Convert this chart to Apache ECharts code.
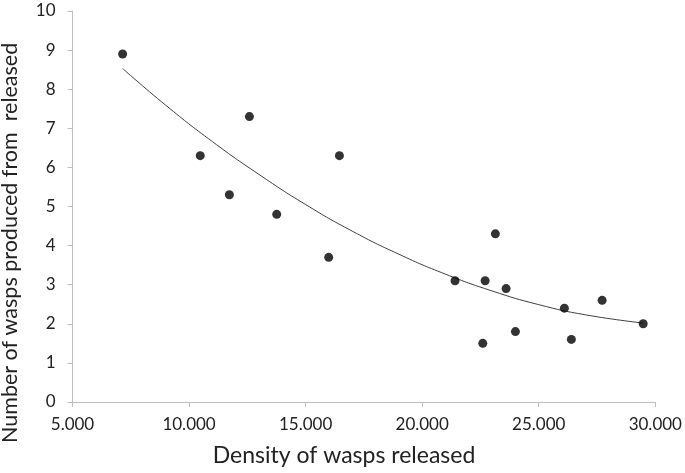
<!DOCTYPE html>
<html>
<head>
<meta charset="utf-8">
<script src="https://cdn.jsdelivr.net/npm/echarts@6/dist/echarts.min.js"></script>
<style>html,body{margin:0;padding:0;background:#fff}#c{width:685px;height:473px}</style>
</head>
<body>
<div id="c"></div>
<script>
// Observed points: density of wasps released vs number produced
const densityX = [7150, 10480, 11730, 12590, 13760, 16450, 15990, 21410, 22700, 22600, 23140, 23600, 24000, 26100, 26400, 27720, 29480];
const producedY = [8.9, 6.3, 5.3, 7.3, 4.8, 6.3, 3.7, 3.1, 3.1, 1.5, 4.3, 2.9, 1.8, 2.4, 1.6, 2.6, 2.0];
// Trend curve
const trendX = [7150, 9000, 11000, 13000, 15000, 17000, 19000, 21000, 23000, 25000, 27000, 29470];
const trendY = [8.53, 7.59, 6.66, 5.82, 5.05, 4.37, 3.78, 3.27, 2.84, 2.49, 2.23, 2.02];
const xTicks = {min: 5000, max: 30000, interval: 5000};
const yTicks = {min: 0, max: 10, interval: 1};
const xTitle = 'Density of wasps released';
const yTitle = 'Number of wasps produced from  released';

const font = 'Lato';
const chart = echarts.init(document.getElementById('c'), null, {renderer: 'canvas'});
const pts = densityX.map((x, i) => [x, producedY[i]]);
const trend = trendX.map((x, i) => [x, trendY[i]]);
const axisCol = '#bfbfbf';
chart.setOption({
  animation: false,
  backgroundColor: '#fff',
  grid: {left: 72.5, right: 29.7, top: 11, bottom: 71},
  xAxis: {
    type: 'value', min: xTicks.min, max: xTicks.max, interval: xTicks.interval,
    splitLine: {show: false},
    axisLine: {show: true, onZero: false, lineStyle: {color: axisCol, width: 1}},
    axisTick: {show: true, length: 5, lineStyle: {color: axisCol}},
    axisLabel: {margin: 14, color: '#222', fontSize: 17, fontFamily: font,
      formatter: v => (v / 1000) + '.000'}
  },
  yAxis: {
    type: 'value', min: yTicks.min, max: yTicks.max, interval: yTicks.interval,
    splitLine: {show: false},
    axisLine: {show: true, lineStyle: {color: axisCol, width: 1}},
    axisTick: {show: true, length: 5, lineStyle: {color: axisCol}},
    axisLabel: {margin: 17, color: '#222', fontSize: 17, fontFamily: font}
  },
  graphic: [
    {type: 'text', x: 344, y: 467,
      style: {text: xTitle, fill: '#222', font: '23px ' + font, textAlign: 'center', textVerticalAlign: 'bottom'}},
    {type: 'text', rotation: Math.PI / 2, x: 21, y: 443,
      style: {text: yTitle, fill: '#222', font: '21.5px ' + font, textVerticalAlign: 'bottom', textAlign: 'left'}}
  ],
  series: [
    {type: 'line', data: trend, smooth: true, symbol: 'none',
      lineStyle: {color: '#404040', width: 1}, z: 2},
    {type: 'scatter', data: pts, symbolSize: 9, itemStyle: {color: '#000'}, z: 3}
  ]
});
</script>
</body>
</html>
